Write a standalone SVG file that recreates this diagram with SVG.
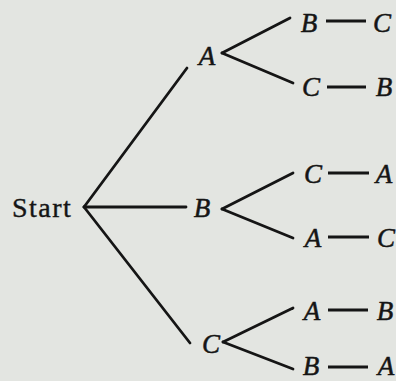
<svg xmlns="http://www.w3.org/2000/svg" width="396" height="381" viewBox="0 0 396 381">
<style>
.t{font-family:"Liberation Serif","Times New Roman",Tinos,serif;font-style:italic;font-size:27px;fill:#151515;stroke:#151515;stroke-width:0.5;text-anchor:middle}
.s{font-family:"Liberation Serif","Times New Roman",Tinos,serif;font-size:28px;fill:#151515;stroke:#151515;stroke-width:0.4;letter-spacing:1.5px}
.e{stroke:#151515;stroke-width:2.8;fill:none;stroke-linecap:round}
.d{stroke:#151515;stroke-width:3.2;fill:none}
</style>
<rect width="396" height="381" fill="#e3e5e1"/>
<g id="connectors">
<line class="e" x1="84" y1="207" x2="187" y2="68"/>
<line class="e" x1="84" y1="207" x2="186" y2="207"/>
<line class="e" x1="84" y1="207" x2="190" y2="343"/>
<line class="e" x1="222" y1="53" x2="290" y2="18"/>
<line class="e" x1="222" y1="53" x2="293" y2="83"/>
<line class="e" x1="222" y1="209" x2="293" y2="173"/>
<line class="e" x1="222" y1="209" x2="293" y2="238"/>
<line class="e" x1="223" y1="342" x2="293" y2="308"/>
<line class="e" x1="223" y1="342" x2="293" y2="369"/>
<line class="d" x1="326" y1="21" x2="366" y2="21"/>
<line class="d" x1="327" y1="87" x2="366" y2="87"/>
<line class="d" x1="328" y1="173" x2="369" y2="173"/>
<line class="d" x1="328" y1="237" x2="369" y2="237"/>
<line class="d" x1="328" y1="310" x2="368" y2="310"/>
<line class="d" x1="328" y1="367" x2="368" y2="367"/>
</g>
<g id="start"><text class="s" x="12" y="217">Start</text></g>
<g id="nA"><text class="t" x="207" y="65">A</text></g>
<g id="nB"><text class="t" x="202" y="217">B</text></g>
<g id="nC"><text class="t" x="211" y="353">C</text></g>
<g id="nAB"><text class="t" x="309" y="32">B</text></g>
<g id="nABC"><text class="t" x="382" y="32">C</text></g>
<g id="nAC"><text class="t" x="311" y="96">C</text></g>
<g id="nACB"><text class="t" x="384" y="96">B</text></g>
<g id="nBC"><text class="t" x="313" y="183">C</text></g>
<g id="nBCA"><text class="t" x="384" y="183">A</text></g>
<g id="nBA"><text class="t" x="313" y="247">A</text></g>
<g id="nBAC"><text class="t" x="386" y="247">C</text></g>
<g id="nCA"><text class="t" x="312" y="320">A</text></g>
<g id="nCAB"><text class="t" x="385" y="320">B</text></g>
<g id="nCB"><text class="t" x="311" y="375">B</text></g>
<g id="nCBA"><text class="t" x="386" y="375">A</text></g>
</svg>
